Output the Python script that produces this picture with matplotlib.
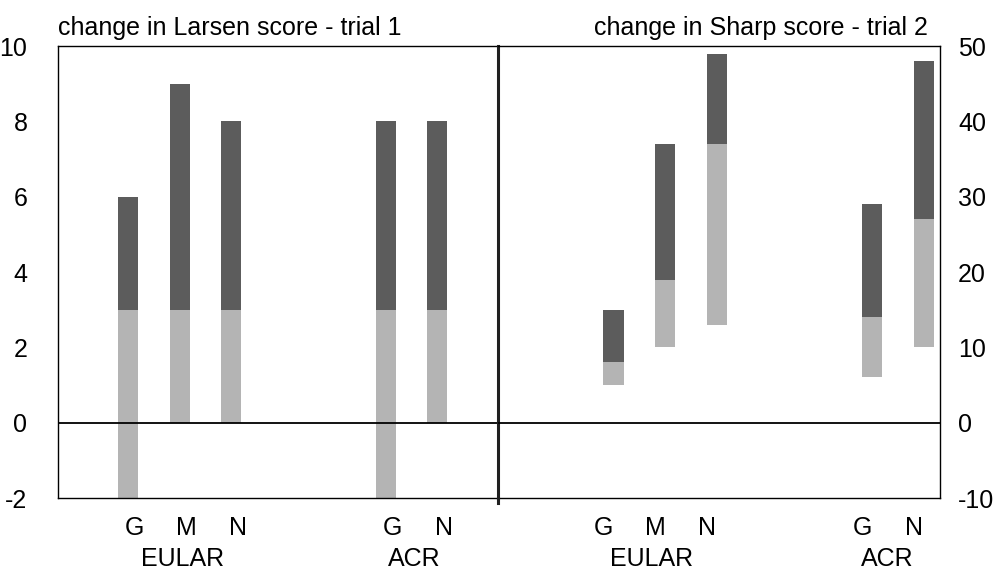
import matplotlib
matplotlib.use("Agg")
import matplotlib.pyplot as plt
import matplotlib.transforms as mtransforms
import numpy as np

plt.rcParams['font.family'] = ['Liberation Sans', 'DejaVu Sans']
plt.rcParams['axes.unicode_minus'] = False

# ---- data ----
bar_labels = ['G', 'M', 'N', 'G', 'N']
bar_pos = [1, 2, 3, 6, 7]
groups = ['EULAR', 'ACR']

# Larsen score - trial 1: light part from low to mid, dark part mid to high
larsen_low = [-2, 0, 0, -2, 0]
larsen_mid = [3, 3, 3, 3, 3]
larsen_high = [6, 9, 8, 8, 8]

# Sharp score - trial 2
sharp_low = [5, 10, 13, 6, 10]
sharp_mid = [8, 19, 37, 14, 27]
sharp_high = [15, 37, 49, 29, 48]

dark = '#5c5c5c'
light = '#b4b4b4'
fs = 18

fig = plt.figure(figsize=(9.93, 5.72), dpi=100)
axL = fig.add_axes([58/993, 1-498/572, 440/993, 452/572])
axR = fig.add_axes([498/993, 1-498/572, 442/993, 452/572])

def draw_panel(ax, low, mid, high, ylim, yticks, xlim, lab_shift, grp_x, title, side):
    low, mid, high = np.array(low), np.array(mid), np.array(high)
    ax.bar(bar_pos, mid - low, bottom=low, width=0.39, color=light, linewidth=0)
    ax.bar(bar_pos, high - mid, bottom=mid, width=0.39, color=dark, linewidth=0)
    ax.axhline(0, color='black', lw=1.3, zorder=3)
    ax.set_xlim(*xlim)
    ax.set_ylim(*ylim)
    ax.set_yticks(yticks)
    ax.tick_params(axis='y', length=0, labelsize=fs)
    if side == 'right':
        ax.yaxis.tick_right()
        ax.tick_params(axis='y', pad=13)
    else:
        ax.tick_params(axis='y', pad=22)
    ax.set_xticks(np.array(bar_pos) + lab_shift, bar_labels)
    ax.tick_params(axis='x', length=0, labelsize=fs, pad=13)
    trans = mtransforms.blended_transform_factory(ax.transData, ax.transAxes)
    for g, gx in zip(groups, grp_x):
        ax.text(gx, -0.135, g, transform=trans, ha='center', va='center', fontsize=fs)
    for s in ax.spines.values():
        s.set_linewidth(1.0)
    if side == 'right':
        ax.text(0.973, 1.014, title, transform=ax.transAxes, ha='right', va='bottom', fontsize=fs)
        ax.spines['left'].set_linewidth(2.2)
        ax.spines['left'].set_color('#202020')
        ax.plot([0, 0], [-0.012, 0], transform=ax.transAxes, color='#202020',
                lw=2.2, clip_on=False, zorder=4)
    else:
        ax.text(0.0, 1.014, title, transform=ax.transAxes, ha='left', va='bottom', fontsize=fs)
        ax.spines['right'].set_visible(False)

draw_panel(axL, larsen_low, larsen_mid, larsen_high, (-2, 10), range(-2, 11, 2),
           (-0.36, 8.18), 0.13, [2.05, 6.55], 'change in Larsen score - trial 1', 'left')
draw_panel(axR, sharp_low, sharp_mid, sharp_high, (-10, 50), range(-10, 51, 10),
           (-1.23, 7.31), -0.19, [1.74, 6.30], 'change in Sharp score - trial 2', 'right')

fig.savefig('out.png', dpi=100)
